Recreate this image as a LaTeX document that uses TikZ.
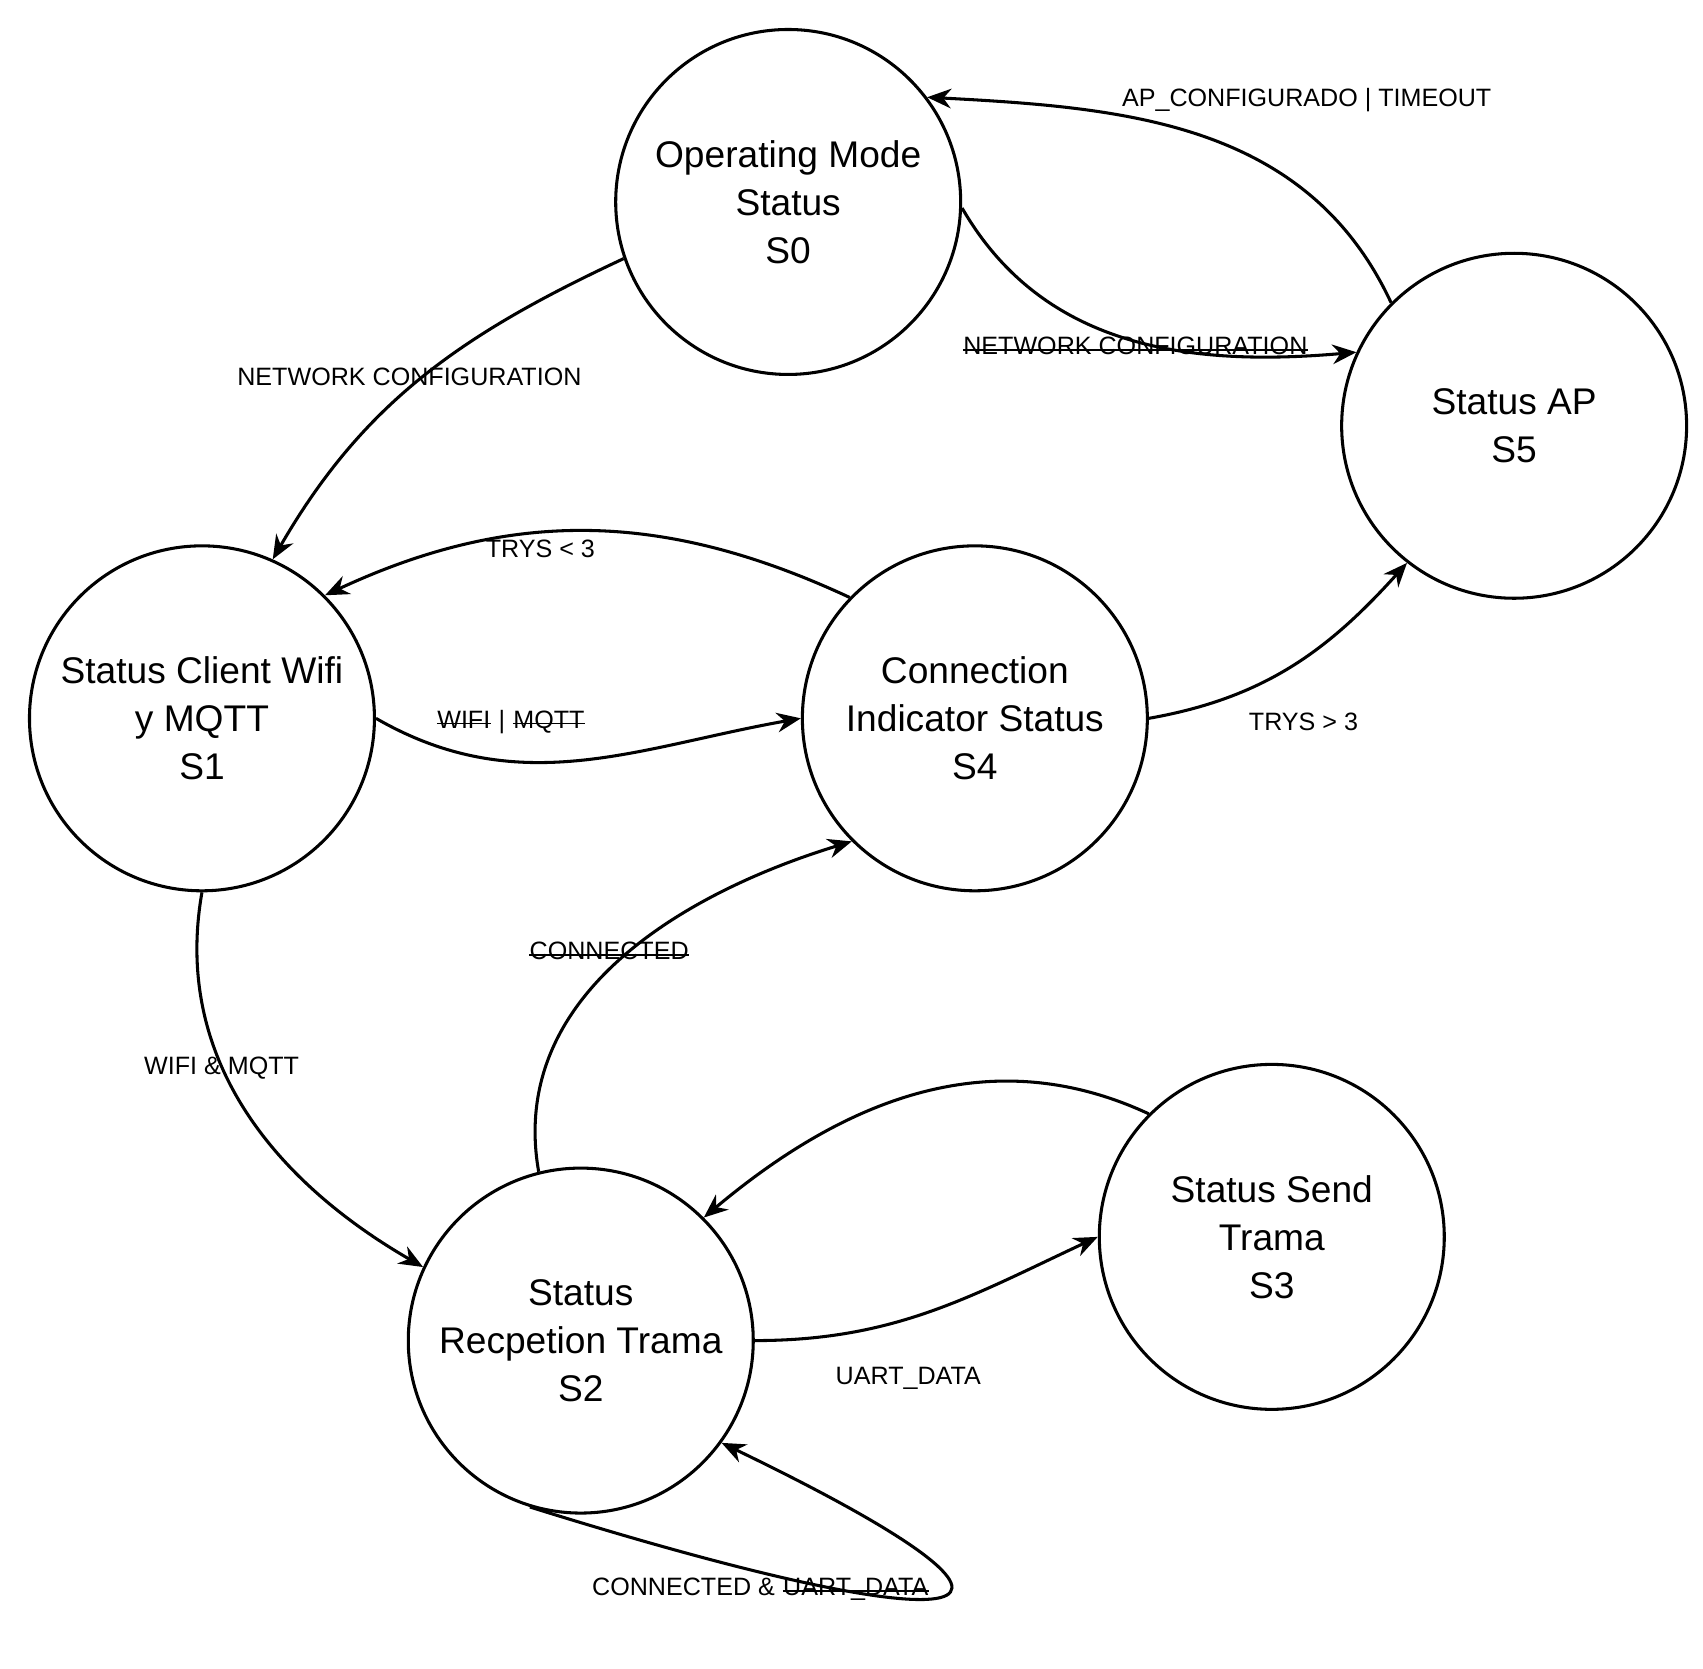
\documentclass[tikz,border=0pt]{standalone}
\usepackage{fontspec}
\setmainfont{Liberation Sans}
\usetikzlibrary{arrows.meta}
\newcommand{\strk}[1]{\tikz[baseline=(t.base)]{\node[inner sep=0pt](t){#1};\draw[line width=0.8pt]([yshift=0.35ex]t.base west)--([yshift=0.35ex]t.base east);}}
\begin{document}
\begin{tikzpicture}[x=0.5pt,y=-0.5pt,
  st/.style={circle,draw,line width=1.4pt,minimum size=316*0.5pt,inner sep=0pt,align=center,font=\fontsize{17}{22}\selectfont},
  ed/.style={line width=1.4pt,-{Stealth[length=11pt,width=9pt]}},
  lb/.style={font=\fontsize{11.5}{13}\selectfont,inner sep=1pt}]
\useasboundingbox (0,0) rectangle (1560,1528);
\node[st] (S0) at (722,185) {Operating Mode\\Status\\S0};
\node[st] (S5) at (1387,390) {Status AP\\S5};
\node[st] (S1) at (185,658) {Status Client Wifi\\y MQTT\\S1};
\node[st] (S4) at (893,658) {Connection\\Indicator Status\\S4};
\node[st] (S3) at (1165,1133) {Status Send\\Trama\\S3};
\node[st] (S2) at (532,1228) {Status\\Recpetion Trama\\S2};

\draw[ed] (S0.199) to[out=205,in=60] (S1.66);
\draw[ed] (S0.358) to[out=-60,in=185] (S5.155);
\draw[ed] (S5.135) to[out=115,in=-3] (S0.37);
\draw[ed] (S4.136) to[out=155,in=25] (S1.45);
\draw[ed] (S1.0) to[out=-30,in=190] (S4.180);
\draw[ed] (S4.0) to[out=10,in=228] (S5.232);
\draw[ed] (S1.270) to[out=260,in=150] (S2.155);
\draw[ed] (S2.104) to[out=100,in=197] (S4.225);
\draw[ed] (S3.135) to[out=155,in=40] (S2.45);
\draw[ed] (S2.0) to[out=0,in=205] (S3.180);
\draw[ed] (S2.253) .. controls (900,1510) and (1010,1490) .. (S2.324);

\node[lb] (l1) at (375,345) {NETWORK CONFIGURATION};
\node[lb] (l2) at (1040,317) {\strk{NETWORK CONFIGURATION}};
\node[lb] (l3) at (1197,92) {AP\_CONFIGURADO | TIMEOUT};
\node[lb] (l4) at (495,503) {TRYS < 3};
\node[lb] (l5) at (468,661) {\strk{WIFI} | \strk{MQTT}};
\node[lb] (l6) at (1194,661) {TRYS > 3};
\node[lb] (l7) at (203,978) {WIFI \& MQTT};
\node[lb] (l8) at (558,871) {\strk{CONNECTED}};
\node[lb] (l9) at (832,1263) {UART\_DATA};
\node[lb] (l10) at (697,1456) {CONNECTED \& \strk{UART\_DATA}};
\end{tikzpicture}
\end{document}
